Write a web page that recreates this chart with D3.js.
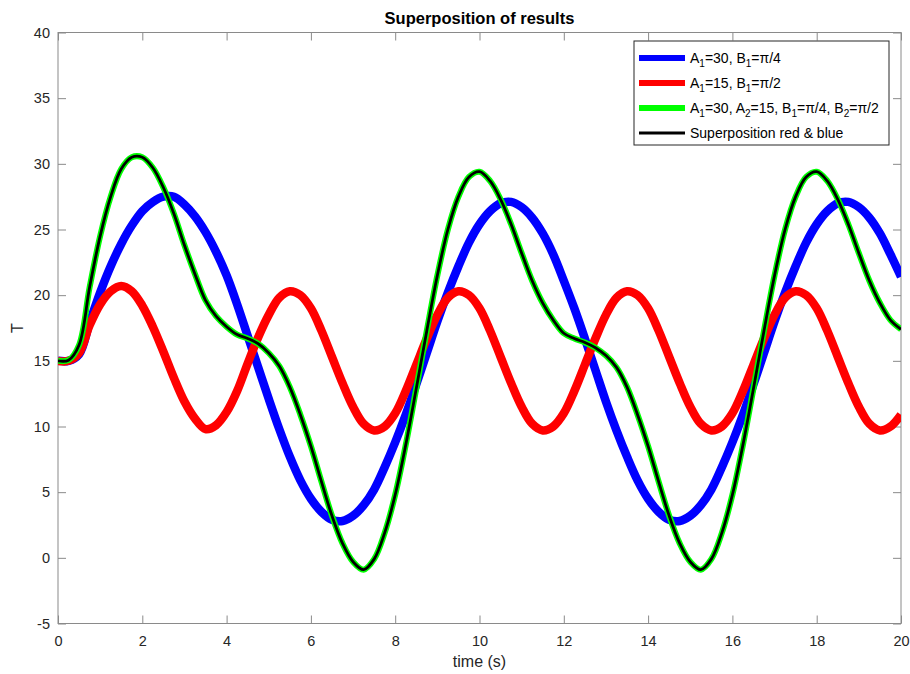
<!DOCTYPE html>
<html>
<head>
<meta charset="utf-8">
<script src="https://cdn.jsdelivr.net/npm/d3@7"></script>
<style>
  html, body { margin: 0; padding: 0; background: #fff; }
  svg { display: block; font-family: "Liberation Sans", Arial, Helvetica, sans-serif; }
</style>
</head>
<body>
<svg id="chart" width="910" height="674"></svg>
<script>
// Sample times (s)
const timeS = [
  0, 0.25, 0.5, 0.75, 1, 1.25, 1.5, 1.75, 2, 2.25, 2.5, 2.75,
  3, 3.25, 3.5, 3.75, 4, 4.25, 4.5, 4.75, 5, 5.25, 5.5, 5.75,
  6, 6.25, 6.5, 6.75, 7, 7.25, 7.5, 7.75, 8, 8.25, 8.5, 8.75,
  9, 9.25, 9.5, 9.75, 10, 10.25, 10.5, 10.75, 11, 11.25, 11.5, 11.75,
  12, 12.25, 12.5, 12.75, 13, 13.25, 13.5, 13.75, 14, 14.25, 14.5, 14.75,
  15, 15.25, 15.5, 15.75, 16, 16.25, 16.5, 16.75, 17, 17.25, 17.5, 17.75,
  18, 18.25, 18.5, 18.75, 19, 19.25, 19.5, 19.75, 20
];

// A1=30, B1=pi/4
const blueT = [
  15.0, 15.0, 15.5, 17.9, 20.2, 22.2, 23.9, 25.3, 26.4, 27.1, 27.5, 27.5,
  26.9, 26.0, 24.8, 23.3, 21.5, 19.3, 16.9, 14.5, 12.1, 9.8, 7.7, 5.9,
  4.5, 3.5, 2.9, 2.8, 3.2, 4.0, 5.2, 6.9, 8.8, 10.9, 13.2, 15.6,
  18.0, 20.2, 22.2, 24.0, 25.4, 26.4, 27.0, 27.1, 26.7, 25.9, 24.7, 23.1,
  21.1, 19.0, 16.7, 14.3, 11.9, 9.7, 7.7, 5.9, 4.5, 3.5, 2.9, 2.8,
  3.2, 4.0, 5.2, 6.9, 8.8, 10.9, 13.2, 15.6, 18.0, 20.2, 22.2, 24.0,
  25.4, 26.4, 27.0, 27.1, 26.7, 25.9, 24.7, 23.1, 21.4
];

// A1=15, B1=pi/2
const redT = [
  15.0, 15.0, 15.6, 17.7, 19.3, 20.3, 20.7, 20.3, 19.2, 17.6, 15.7, 13.7,
  11.9, 10.6, 9.8, 10.1, 11.1, 12.7, 14.8, 16.8, 18.5, 19.8, 20.3, 20.0,
  19.0, 17.3, 15.3, 13.3, 11.5, 10.2, 9.7, 10.0, 11.0, 12.7, 14.7, 16.7,
  18.5, 19.8, 20.3, 20.0, 19.0, 17.3, 15.3, 13.3, 11.5, 10.2, 9.7, 10.0,
  11.0, 12.7, 14.7, 16.7, 18.5, 19.8, 20.3, 20.0, 19.0, 17.3, 15.3, 13.3,
  11.5, 10.2, 9.7, 10.0, 11.0, 12.7, 14.7, 16.7, 18.5, 19.8, 20.3, 20.0,
  19.0, 17.3, 15.3, 13.3, 11.5, 10.2, 9.7, 10.0, 10.9
];

// A1=30, A2=15, B1=pi/4, B2=pi/2 (combined run)
const combinedT = [
  15.0, 15.05, 16.2, 20.6, 24.5, 27.5, 29.6, 30.5, 30.5, 29.7, 28.2, 26.2,
  23.8, 21.6, 19.6, 18.4, 17.6, 17.0, 16.7, 16.3, 15.6, 14.6, 13.0, 10.9,
  8.5, 5.8, 3.2, 1.1, -0.3, -0.9, -0.1, 1.9, 4.8, 8.6, 12.9, 17.3,
  21.5, 25.0, 27.5, 29.0, 29.4, 28.7, 27.3, 25.4, 23.2, 21.1, 19.4, 18.1,
  17.1, 16.7, 16.4, 16.0, 15.4, 14.5, 13.0, 10.9, 8.5, 5.8, 3.2, 1.1,
  -0.3, -0.9, -0.1, 1.9, 4.8, 8.6, 12.9, 17.3, 21.5, 25.0, 27.5, 29.0,
  29.4, 28.7, 27.3, 25.4, 23.2, 21.1, 19.4, 18.1, 17.4
];

// Superposition of the red and blue runs
const superT = [
  15.0, 15.05, 16.2, 20.6, 24.5, 27.5, 29.6, 30.5, 30.5, 29.7, 28.2, 26.2,
  23.8, 21.6, 19.6, 18.4, 17.6, 17.0, 16.7, 16.3, 15.6, 14.6, 13.0, 10.9,
  8.5, 5.8, 3.2, 1.1, -0.3, -0.9, -0.1, 1.9, 4.8, 8.6, 12.9, 17.3,
  21.5, 25.0, 27.5, 29.0, 29.4, 28.7, 27.3, 25.4, 23.2, 21.1, 19.4, 18.1,
  17.1, 16.7, 16.4, 16.0, 15.4, 14.5, 13.0, 10.9, 8.5, 5.8, 3.2, 1.1,
  -0.3, -0.9, -0.1, 1.9, 4.8, 8.6, 12.9, 17.3, 21.5, 25.0, 27.5, 29.0,
  29.4, 28.7, 27.3, 25.4, 23.2, 21.1, 19.4, 18.1, 17.4
];

const xTicks = [0, 2, 4, 6, 8, 10, 12, 14, 16, 18, 20];
const yTicks = [-5, 0, 5, 10, 15, 20, 25, 30, 35, 40];

// Legend entries: pieces of text, "sub" pieces are subscripts
const legendLabels = [
  [["A"], ["1", "sub"], ["=30, B"], ["1", "sub"], ["=π/4"]],
  [["A"], ["1", "sub"], ["=15, B"], ["1", "sub"], ["=π/2"]],
  [["A"], ["1", "sub"], ["=30, A"], ["2", "sub"], ["=15, B"], ["1", "sub"], ["=π/4, B"], ["2", "sub"], ["=π/2"]],
  [["Superposition red & blue"]]
];

const titleText = "Superposition of results";
const xLabelText = "time (s)";
const yLabelText = "T";

// ---- drawing ----
const svg = d3.select("#chart");
const plotLeft = 58, plotRight = 901, plotTop = 32.5, plotBottom = 623.5;
const axisColor = "#8a8a8a";
const textColor = "#262626";

const x = d3.scaleLinear().domain([0, 20]).range([plotLeft, plotRight]);
const y = d3.scaleLinear().domain([-5, 40]).range([plotBottom, plotTop]);

svg.append("defs").append("clipPath").attr("id", "plotClip")
  .append("rect").attr("x", plotLeft).attr("y", plotTop)
  .attr("width", plotRight - plotLeft).attr("height", plotBottom - plotTop);

// plain hyphen-minus for negative tick labels
const tickFmt = d => String(d);

function styleAxis(g) {
  g.select(".domain").remove();
  g.selectAll(".tick line").attr("stroke", axisColor);
  g.selectAll(".tick text").attr("fill", textColor).style("font-size", "14.5px");
}

svg.append("g").attr("transform", `translate(0,${plotBottom})`)
  .call(d3.axisBottom(x).tickValues(xTicks).tickFormat(tickFmt)
    .tickSizeInner(-8).tickSizeOuter(0).tickPadding(12))
  .call(styleAxis);

svg.append("g").attr("transform", `translate(0,${plotTop})`)
  .call(d3.axisTop(x).tickValues(xTicks).tickFormat("")
    .tickSizeInner(-8).tickSizeOuter(0))
  .call(styleAxis);

svg.append("g").attr("transform", `translate(${plotLeft},0)`)
  .call(d3.axisLeft(y).tickValues(yTicks).tickFormat(tickFmt)
    .tickSizeInner(-8).tickSizeOuter(0).tickPadding(8))
  .call(styleAxis);

svg.append("g").attr("transform", `translate(${plotRight},0)`)
  .call(d3.axisRight(y).tickValues(yTicks).tickFormat("")
    .tickSizeInner(-8).tickSizeOuter(0))
  .call(styleAxis);

// axes box
svg.append("rect").attr("x", plotLeft).attr("y", plotTop)
  .attr("width", plotRight - plotLeft).attr("height", plotBottom - plotTop)
  .attr("fill", "none").attr("stroke", axisColor).attr("stroke-width", 1);

const line = d3.line()
  .x((d, i) => x(timeS[i]))
  .y(d => y(d))
  .curve(d3.curveCatmullRom.alpha(0.5));

const series = [
  { values: blueT, color: "#0000ff", width: 8.5 },
  { values: redT, color: "#ff0000", width: 8.5 },
  { values: combinedT, color: "#00ff00", width: 6 },
  { values: superT, color: "#000000", width: 2.8 }
];

const plot = svg.append("g").attr("clip-path", "url(#plotClip)");
plot.selectAll("path.series").data(series).join("path")
  .attr("class", "series")
  .attr("d", d => line(d.values))
  .attr("fill", "none")
  .attr("stroke", d => d.color)
  .attr("stroke-width", d => d.width)
  .attr("stroke-linejoin", "round")
  .attr("stroke-linecap", "butt");

// title and axis labels
svg.append("text").attr("x", (plotLeft + plotRight) / 2).attr("y", 24)
  .attr("text-anchor", "middle").attr("fill", "#000")
  .style("font-size", "16.5px").style("font-weight", "bold")
  .text(titleText);

svg.append("text").attr("x", (plotLeft + plotRight) / 2).attr("y", 667)
  .attr("text-anchor", "middle").attr("fill", textColor)
  .style("font-size", "16px").text(xLabelText);

svg.append("text").attr("transform", `translate(23,${(plotTop + plotBottom) / 2}) rotate(-90)`)
  .attr("text-anchor", "middle").attr("fill", textColor)
  .style("font-size", "16px").text(yLabelText);

// legend
const lg = svg.append("g");
const lgX = 634, lgY = 41, lgW = 255, lgH = 104, rowStep = 25, firstRow = 58;
lg.append("rect").attr("x", lgX).attr("y", lgY).attr("width", lgW).attr("height", lgH)
  .attr("fill", "#fff").attr("stroke", textColor).attr("stroke-width", 1);

series.forEach((s, i) => {
  const cy = firstRow + i * rowStep;
  lg.append("line").attr("x1", 639).attr("x2", 685).attr("y1", cy).attr("y2", cy)
    .attr("stroke", s.color).attr("stroke-width", i < 3 ? 6 : 2.8);
  const t = lg.append("text").attr("x", 690).attr("y", cy + 5)
    .attr("fill", "#000").style("font-size", "14px");
  legendLabels[i].forEach(([str, kind]) => {
    if (kind === "sub") {
      t.append("tspan").attr("dy", 4).style("font-size", "10px").text(str);
    } else {
      const sp = t.append("tspan").text(str);
      if (t.selectAll("tspan").size() > 1) sp.attr("dy", -4);
    }
  });
});
</script>
</body>
</html>
